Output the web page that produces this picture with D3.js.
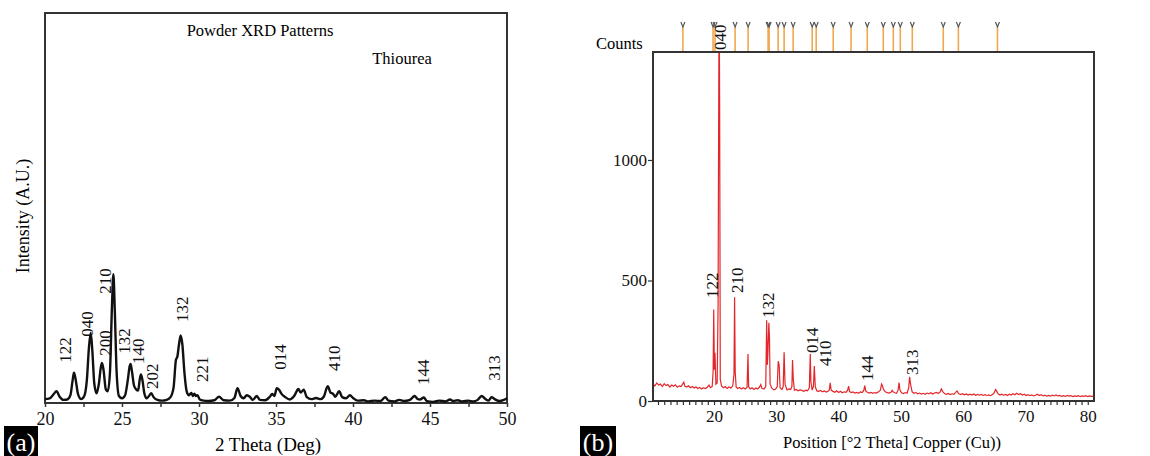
<!DOCTYPE html>
<html>
<head>
<meta charset="utf-8">
<script src="https://cdn.jsdelivr.net/npm/d3@7"></script>
<style>
  body { margin: 0; background: #fff; }
  svg, svg text { font-family: 'Liberation Serif', Tinos, 'Times New Roman', Times, 'DejaVu Serif', serif !important; }
</style>
</head>
<body>
<script>
// (a) powder pattern, 2theta vs intensity (arbitrary units, 0-100 = frame height)
const patternA = [
  [20.0, 1.0], [20.3, 1.2], [20.55, 2.2], [20.75, 3.0], [20.95, 1.6], [21.2, 0.8], [21.45, 0.9],
  [21.65, 2.0], [21.8, 6.0], [21.88, 7.8], [21.97, 6.5], [22.15, 2.2], [22.35, 1.0], [22.55, 1.8],
  [22.72, 6.0], [22.85, 14], [22.97, 18], [23.08, 13], [23.2, 5], [23.35, 2.5], [23.5, 5],
  [23.62, 9], [23.7, 10.3], [23.8, 8.5], [23.95, 3.5], [24.08, 3], [24.22, 8], [24.35, 25],
  [24.44, 33], [24.53, 24], [24.65, 8], [24.8, 1.8], [25.0, 1.2], [25.2, 2], [25.38, 6],
  [25.5, 9.5], [25.56, 10], [25.65, 8], [25.78, 4.5], [25.92, 3.5], [26.05, 3.2], [26.15, 6],
  [26.23, 7.3], [26.32, 6], [26.45, 2.5], [26.6, 1.2], [26.75, 1.8], [26.9, 2.5], [27.05, 1.5],
  [27.3, 0.8], [27.6, 0.6], [27.9, 0.8], [28.15, 1.5], [28.35, 4], [28.5, 11], [28.6, 12],
  [28.7, 15], [28.81, 17.3], [28.92, 15], [29.05, 8], [29.2, 3], [29.35, 2], [29.5, 2.6],
  [29.6, 1.8], [29.7, 2.4], [29.8, 1.8], [29.9, 2.0], [30.05, 0.9], [30.3, 0.6], [30.6, 0.5],
  [31.0, 0.7], [31.3, 1.6], [31.6, 0.7], [32.0, 0.6], [32.3, 1.3], [32.5, 3.8], [32.7, 1.8],
  [32.9, 1.2], [33.1, 2.0], [33.3, 1.6], [33.5, 0.8], [33.75, 1.8], [33.95, 0.8], [34.3, 0.7],
  [34.6, 1.6], [34.75, 2.3], [34.9, 1.8], [35.05, 3.8], [35.2, 3.4], [35.35, 2.4], [35.6, 1.5],
  [35.9, 0.9], [36.2, 1.9], [36.45, 3.6], [36.6, 2.7], [36.8, 3.4], [37.0, 1.5], [37.3, 1.0],
  [37.6, 1.3], [37.9, 1.0], [38.1, 1.6], [38.36, 4.3], [38.55, 2.6], [38.7, 2.4], [38.85, 1.6],
  [39.1, 3.0], [39.3, 1.5], [39.55, 1.2], [39.8, 2.0], [40.0, 1.3], [40.3, 0.6], [40.7, 0.7],
  [41.0, 0.4], [41.4, 0.6], [41.8, 0.5], [42.1, 1.5], [42.3, 0.6], [42.7, 0.4], [43.0, 0.8],
  [43.3, 0.5], [43.7, 0.8], [44.0, 1.8], [44.2, 1.0], [44.35, 0.9], [44.6, 1.4], [44.8, 0.5],
  [45.2, 0.3], [45.6, 0.6], [46.0, 0.4], [46.3, 0.9], [46.5, 0.5], [46.8, 0.7], [47.1, 0.4],
  [47.5, 0.6], [47.8, 0.4], [48.1, 0.8], [48.35, 1.8], [48.6, 1.0], [48.8, 0.6], [49.0, 1.5],
  [49.2, 1.0], [49.5, 0.5], [49.8, 0.8], [50.0, 1.2],
];

// hkl labels for (a): text, 2theta, intensity at label foot
const labelsA = [
  ['122', 21.3, 10.3], ['040', 22.73, 17], ['210', 23.96, 28], ['200', 23.96, 12.1],
  ['132', 25.13, 12.6], ['140', 26.04, 10], ['202', 27.0, 3.6], ['132', 28.96, 20.8],
  ['221', 30.2, 5.4], ['014', 35.26, 8.5], ['410', 38.83, 8.2], ['144', 44.55, 4.6],
  ['313', 49.16, 5.7],
];
const ticksA = [20, 22.5, 25, 27.5, 30, 32.5, 35, 37.5, 40, 42.5, 45, 47.5, 50];

// (b) diffractometer scan, 2theta vs counts
const patternB = [
  [10.2, 72], [10.5, 62], [10.8, 75], [11.1, 66], [11.4, 70], [11.7, 60], [12.0, 72], [12.3, 64],
  [12.6, 68], [12.9, 58], [13.2, 66], [13.5, 61], [13.8, 67], [14.1, 57], [14.4, 63], [14.7, 60],
  [15.0, 72], [15.15, 78], [15.3, 62], [15.6, 58], [15.9, 63], [16.2, 55], [16.5, 60], [16.8, 54],
  [17.1, 58], [17.4, 52], [17.7, 56], [18.0, 50], [18.3, 55], [18.6, 52], [18.9, 57], [19.2, 66],
  [19.4, 55], [19.7, 60], [19.85, 120], [19.95, 380], [20.05, 130], [20.15, 200], [20.3, 70],
  [20.5, 75], [20.65, 400], [20.75, 1230], [20.82, 1700], [20.9, 1230], [21.0, 90], [21.2, 62],
  [21.5, 55], [21.8, 60], [22.1, 52], [22.4, 58], [22.7, 54], [23.0, 62], [23.2, 110], [23.3, 430],
  [23.4, 120], [23.55, 58], [23.8, 52], [24.1, 56], [24.4, 50], [24.7, 55], [25.0, 50], [25.3, 56],
  [25.45, 195], [25.55, 60], [25.8, 50], [26.1, 55], [26.4, 48], [26.7, 54], [27.0, 50], [27.3, 58],
  [27.5, 68], [27.7, 52], [28.0, 50], [28.3, 60], [28.45, 335], [28.55, 150], [28.65, 200],
  [28.8, 325], [28.9, 260], [29.0, 70], [29.3, 52], [29.6, 46], [29.9, 50], [30.15, 60],
  [30.3, 165], [30.45, 150], [30.6, 55], [30.9, 48], [31.1, 60], [31.25, 202], [31.4, 70],
  [31.7, 46], [32.0, 50], [32.3, 48], [32.5, 60], [32.6, 170], [32.72, 90], [32.9, 45], [33.2, 48],
  [33.5, 42], [33.8, 46], [34.1, 44], [34.4, 40], [34.7, 45], [35.0, 42], [35.3, 55], [35.45, 195],
  [35.55, 80], [35.75, 45], [35.95, 60], [36.1, 145], [36.25, 60], [36.5, 42], [36.8, 40],
  [37.1, 44], [37.4, 38], [37.7, 42], [38.0, 37], [38.3, 40], [38.5, 45], [38.65, 75], [38.8, 45],
  [39.1, 40], [39.4, 36], [39.7, 42], [40.0, 35], [40.3, 40], [40.6, 34], [40.9, 38], [41.2, 36],
  [41.45, 45], [41.6, 62], [41.75, 40], [42.0, 35], [42.3, 38], [42.6, 33], [42.9, 36], [43.2, 32],
  [43.5, 38], [43.8, 35], [44.05, 45], [44.2, 64], [44.35, 42], [44.6, 36], [44.9, 33], [45.2, 36],
  [45.5, 32], [45.8, 35], [46.1, 33], [46.4, 38], [46.7, 45], [46.9, 70], [47.05, 62], [47.2, 48],
  [47.5, 38], [47.8, 35], [48.1, 33], [48.4, 36], [48.6, 44], [48.75, 38], [49.0, 34], [49.3, 32],
  [49.55, 45], [49.7, 76], [49.85, 45], [50.1, 34], [50.4, 31], [50.7, 35], [51.0, 32], [51.25, 55],
  [51.4, 100], [51.55, 70], [51.8, 38], [52.1, 32], [52.4, 35], [52.7, 30], [53.0, 33], [53.3, 29],
  [53.6, 32], [53.9, 28], [54.2, 33], [54.5, 30], [54.8, 34], [55.1, 29], [55.4, 33], [55.7, 36],
  [56.0, 31], [56.3, 38], [56.5, 50], [56.7, 40], [57.0, 31], [57.3, 28], [57.6, 31], [57.9, 27],
  [58.2, 30], [58.5, 28], [58.8, 36], [59.0, 42], [59.3, 30], [59.6, 27], [59.9, 30], [60.2, 26],
  [60.5, 29], [60.8, 25], [61.1, 28], [61.4, 25], [61.7, 29], [62.0, 24], [62.3, 27], [62.6, 24],
  [62.9, 27], [63.2, 23], [63.5, 26], [63.8, 23], [64.1, 25], [64.4, 22], [64.7, 27], [65.0, 35],
  [65.2, 48], [65.4, 40], [65.6, 30], [65.9, 25], [66.2, 28], [66.5, 24], [66.8, 27], [67.1, 23],
  [67.4, 28], [67.7, 25], [68.0, 30], [68.3, 26], [68.6, 32], [68.9, 27], [69.2, 30], [69.5, 25],
  [69.8, 28], [70.1, 23], [70.4, 26], [70.7, 22], [71.0, 25], [71.3, 21], [71.6, 24], [71.9, 28],
  [72.2, 23], [72.5, 26], [72.8, 21], [73.1, 24], [73.4, 20], [73.7, 23], [74.0, 20], [74.3, 24],
  [74.6, 21], [74.9, 25], [75.2, 21], [75.5, 23], [75.8, 19], [76.1, 22], [76.4, 19], [76.7, 23],
  [77.0, 20], [77.3, 22], [77.6, 18], [77.9, 21], [78.2, 19], [78.5, 22], [78.8, 18], [79.1, 21],
  [79.4, 19], [79.7, 22], [80.0, 18], [80.3, 21], [80.6, 19], [81.0, 20],
];

// reference pattern positions (top stick markers)
const refPeaksB = [
  15.0, 19.84, 20.16, 23.38, 25.47, 28.68, 28.84, 30.29, 31.25, 32.7, 35.76, 36.4, 39.13,
  42.0, 44.6, 47.17, 48.78, 49.9, 51.83, 56.8, 59.23, 65.5,
];

const labelsB = [
  ['040', 20.96, 1456], ['122', 19.68, 427], ['210', 23.7, 448], ['132', 28.68, 344],
  ['014', 35.76, 199], ['410', 37.85, 145], ['144', 44.6, 83], ['313', 51.83, 108],
];
const yTicksB = [0, 500, 1000];

const svg = d3.select('body').append('svg')
  .attr('width', 1150)
  .attr('height', 456);

// ---------- panel (a) ----------
const a = { left: 45, right: 507, top: 13, bottom: 403 };
const xA = d3.scaleLinear().domain([20, 50]).range([a.left, a.right]);
const yA = d3.scaleLinear().domain([0, 100]).range([a.bottom, a.top]);

const gA = svg.append('g');

gA.append('rect')
  .attr('x', a.left)
  .attr('y', a.top)
  .attr('width', a.right - a.left)
  .attr('height', a.bottom - a.top)
  .attr('fill', 'none')
  .attr('stroke', '#333')
  .attr('stroke-width', 2);

const axA = gA.append('g')
  .attr('transform', `translate(0,${a.bottom})`)
  .call(d3.axisBottom(xA)
    .tickValues(ticksA)
    .tickSize(4)
    .tickPadding(5)
    .tickFormat(d => (d % 5 === 0 ? d : '')));
axA.select('.domain').remove();
axA.attr('font-family', null);
axA.selectAll('line').attr('stroke', '#333').attr('stroke-width', 1.5);
axA.selectAll('text')
  .attr('font-size', 18)
  .attr('fill', '#111');

gA.append('path')
  .datum(patternA)
  .attr('fill', 'none')
  .attr('stroke', '#111')
  .attr('stroke-width', 2.4)
  .attr('stroke-linejoin', 'round')
  .attr('d', d3.line()
    .x(d => xA(d[0]))
    .y(d => yA(d[1]))
    .curve(d3.curveMonotoneX));

gA.selectAll('.lab-a')
  .data(labelsA)
  .enter()
  .append('text')
  .attr('class', 'lab-a')
  .attr('transform', d => `translate(${xA(d[1])},${yA(d[2])}) rotate(-90)`)
  .attr('dominant-baseline', 'central')
  .attr('font-size', 17)
  .attr('fill', '#111')
  .text(d => d[0]);

gA.append('text')
  .attr('x', 260).attr('y', 36)
  .attr('text-anchor', 'middle')
  .attr('font-size', 16.5)
  .text('Powder XRD Patterns');

gA.append('text')
  .attr('x', 402).attr('y', 64)
  .attr('text-anchor', 'middle')
  .attr('font-size', 16.5)
  .text('Thiourea');

gA.append('text')
  .attr('x', 268).attr('y', 451)
  .attr('text-anchor', 'middle')
  .attr('font-size', 19)
  .text('2 Theta (Deg)');

gA.append('text')
  .attr('transform', 'translate(23,216) rotate(-90)')
  .attr('text-anchor', 'middle')
  .attr('dominant-baseline', 'central')
  .attr('font-size', 18)
  .text('Intensity (A.U.)');

// ---------- panel (b) ----------
const b = { left: 653, right: 1094, top: 52, bottom: 401 };
const xB = d3.scaleLinear().domain([10.2, 81]).range([b.left, b.right]);
const yB = d3.scaleLinear().domain([0, 1448]).range([b.bottom, b.top]);

const gB = svg.append('g');

gB.append('clipPath')
  .attr('id', 'clip-b')
  .append('rect')
  .attr('x', b.left)
  .attr('y', b.top)
  .attr('width', b.right - b.left)
  .attr('height', b.bottom - b.top);

// reference sticks above the frame
const sticks = gB.selectAll('.stick')
  .data(refPeaksB)
  .enter()
  .append('g')
  .attr('class', 'stick')
  .attr('transform', d => `translate(${xB(d)},0)`);
sticks.append('line')
  .attr('y1', b.top - 25)
  .attr('y2', b.top)
  .attr('stroke', '#f0a850')
  .attr('stroke-width', 1.6);
sticks.append('path')
  .attr('d', `M-2,${b.top - 30}L0,${b.top - 25}L2,${b.top - 30}`)
  .attr('fill', 'none')
  .attr('stroke', '#555')
  .attr('stroke-width', 1.2);

gB.append('path')
  .datum(patternB)
  .attr('clip-path', 'url(#clip-b)')
  .attr('fill', 'none')
  .attr('stroke', '#e3262a')
  .attr('stroke-width', 1.2)
  .attr('d', d3.line()
    .x(d => xB(d[0]))
    .y(d => yB(d[1])));

gB.append('rect')
  .attr('x', b.left)
  .attr('y', b.top)
  .attr('width', b.right - b.left)
  .attr('height', b.bottom - b.top)
  .attr('fill', 'none')
  .attr('stroke', '#333')
  .attr('stroke-width', 2);

const axBx = gB.append('g')
  .attr('transform', `translate(0,${b.bottom})`)
  .call(d3.axisBottom(xB)
    .tickValues(d3.range(11, 81))
    .tickSize(4)
    .tickPadding(5)
    .tickFormat(d => (d % 10 === 0 ? d : '')));
axBx.select('.domain').remove();
axBx.attr('font-family', null);
axBx.selectAll('line').attr('stroke', '#333').attr('stroke-width', 1.2);
axBx.selectAll('text')
  .attr('font-size', 17)
  .attr('fill', '#111');

const axBy = gB.append('g')
  .attr('transform', `translate(${b.left},0)`)
  .call(d3.axisLeft(yB)
    .tickValues(yTicksB)
    .tickSize(5)
    .tickPadding(1)
    .tickFormat(d3.format('d')));
axBy.select('.domain').remove();
axBy.attr('font-family', null);
axBy.selectAll('line').attr('stroke', '#333').attr('stroke-width', 1.2);
axBy.selectAll('text')
  .attr('font-size', 17)
  .attr('fill', '#111');

gB.selectAll('.lab-b')
  .data(labelsB)
  .enter()
  .append('text')
  .attr('class', 'lab-b')
  .attr('transform', d => `translate(${xB(d[1])},${yB(d[2])}) rotate(-90)`)
  .attr('dominant-baseline', 'central')
  .attr('font-size', 17)
  .attr('fill', '#111')
  .text(d => d[0]);

gB.append('text')
  .attr('x', 596).attr('y', 49)
  .attr('font-size', 16.5)
  .text('Counts');

gB.append('text')
  .attr('x', 892).attr('y', 448)
  .attr('text-anchor', 'middle')
  .attr('font-size', 16.5)
  .text('Position [°2 Theta] Copper (Cu))');

// panel tags
[['(a)', 4, 34], ['(b)', 580, 36]].forEach(([t, x, w]) => {
  svg.append('rect')
    .attr('x', x).attr('y', 426)
    .attr('width', w).attr('height', 30)
    .attr('fill', '#000');
  svg.append('text')
    .attr('x', x + w / 2).attr('y', 451)
    .attr('text-anchor', 'middle')
    .attr('font-size', 26)
    .attr('fill', '#fff')
    .text(t);
});
</script>
</body>
</html>
